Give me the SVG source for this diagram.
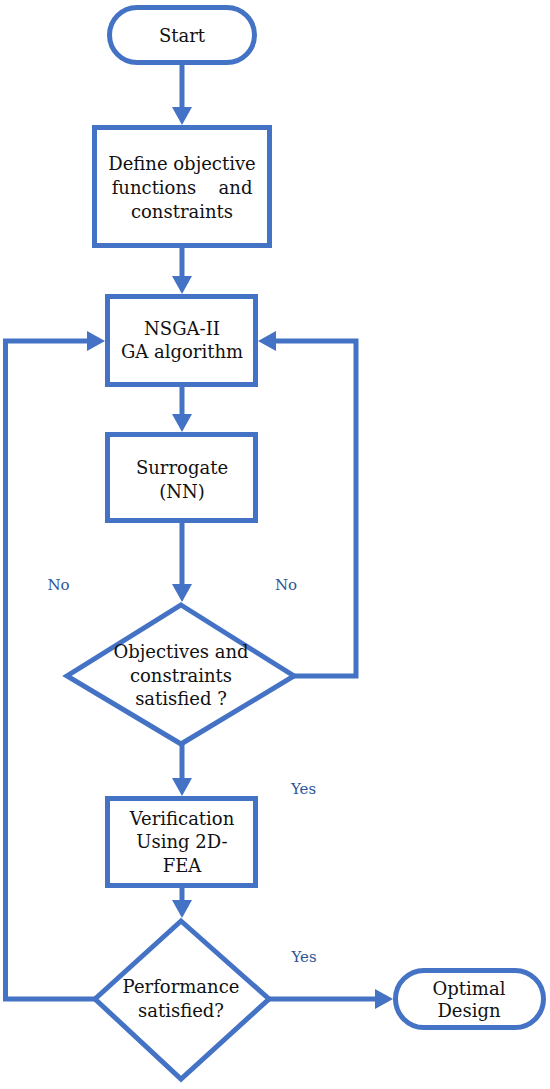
<svg xmlns="http://www.w3.org/2000/svg" width="550" height="1089" viewBox="0 0 550 1089">
<style>
.shape{fill:#fff;stroke:#4472C4;stroke-width:5}
.conn{fill:none;stroke:#4472C4;stroke-width:5}
.t{font-family:"DejaVu Serif","Liberation Serif",serif;font-size:18px;fill:#111;text-anchor:middle}
.lbl{font-family:"DejaVu Serif","Liberation Serif",serif;font-size:15px;fill:#2F5597;text-anchor:middle}
</style>
<defs>
<marker id="ah" markerUnits="userSpaceOnUse" markerWidth="18" markerHeight="20" refX="3" refY="10" orient="auto">
<path d="M0,0 L18,10 L0,20 z" fill="#4472C4"/>
</marker>
</defs>
<rect width="550" height="1089" fill="#fff"/>
<g id="connectors">
<line class="conn" x1="182" y1="62" x2="182" y2="110" marker-end="url(#ah)"/>
<line class="conn" x1="182" y1="245" x2="182" y2="279" marker-end="url(#ah)"/>
<line class="conn" x1="182" y1="384" x2="182" y2="417" marker-end="url(#ah)"/>
<line class="conn" x1="182" y1="520" x2="182" y2="587" marker-end="url(#ah)"/>
<line class="conn" x1="182" y1="744" x2="182" y2="781" marker-end="url(#ah)"/>
<line class="conn" x1="182" y1="885" x2="182" y2="903" marker-end="url(#ah)"/>
<line class="conn" x1="269" y1="999" x2="378" y2="999" marker-end="url(#ah)"/>
<path class="conn" d="M95,999 H5.5 V341 H90" marker-end="url(#ah)"/>
<path class="conn" d="M294,676 H356 V341 H273" marker-end="url(#ah)"/>
<text class="lbl" x="58.5" y="590">No</text>
<text class="lbl" x="286" y="590">No</text>
<text class="lbl" x="303.5" y="794">Yes</text>
<text class="lbl" x="304" y="962">Yes</text>
</g>
<g id="start">
<rect class="shape" x="109.5" y="7.5" width="145" height="55" rx="27.5"/>
<text class="t" x="182" y="42">Start</text>
</g>
<g id="define">
<rect class="shape" x="94.5" y="127.5" width="175" height="118"/>
<text class="t" x="182" y="170">Define objective</text>
<text class="t" y="194"><tspan x="154">functions</tspan><tspan x="235.5">and</tspan></text>
<text class="t" x="182" y="218">constraints</text>
</g>
<g id="nsga">
<rect class="shape" x="107.5" y="296.5" width="148" height="88"/>
<text class="t" x="182" y="335">NSGA-II</text>
<text class="t" x="182" y="358">GA algorithm</text>
</g>
<g id="surrogate">
<rect class="shape" x="107.5" y="434.5" width="148" height="86"/>
<text class="t" x="182" y="474">Surrogate</text>
<text class="t" x="182" y="498">(NN)</text>
</g>
<g id="objectives">
<polygon class="shape" points="181,605 294,676 181,744 67,676"/>
<text class="t" x="181" y="658">Objectives and</text>
<text class="t" x="181" y="682">constraints</text>
<text class="t" x="181" y="705">satisfied ?</text>
</g>
<g id="verification">
<rect class="shape" x="107.5" y="798.5" width="148" height="87"/>
<text class="t" x="182" y="825">Verification</text>
<text class="t" x="182" y="848">Using 2D-</text>
<text class="t" x="182" y="872">FEA</text>
</g>
<g id="performance">
<polygon class="shape" points="181,921 269,999 181,1079 95,999"/>
<text class="t" x="181" y="993">Performance</text>
<text class="t" x="181" y="1017">satisfied?</text>
</g>
<g id="optimal">
<rect class="shape" x="395.5" y="970.5" width="148" height="57" rx="28.5"/>
<text class="t" x="469" y="995">Optimal</text>
<text class="t" x="469" y="1017">Design</text>
</g>
</svg>
